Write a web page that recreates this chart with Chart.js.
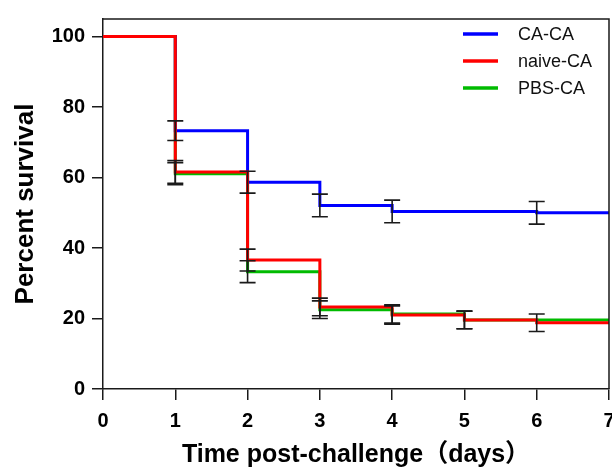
<!DOCTYPE html>
<html>
<head>
<meta charset="utf-8">
<script src="https://cdn.jsdelivr.net/npm/chart.js@4/dist/chart.umd.min.js"></script>
<style>
  html, body { margin: 0; padding: 0; background: #fff; }
  #wrap { width: 612px; height: 470px; position: relative; }
</style>
</head>
<body>
<div id="wrap"><canvas id="survivalChart"></canvas></div>
<script>
const FONT = "Arial, 'Liberation Sans', 'Noto Sans CJK SC', sans-serif";

// values (percent survival per day)
const days = [0, 1, 2, 3, 4, 5, 6, 7];
const seriesNames = ['CA-CA', 'naive-CA', 'PBS-CA'];
const caCa = [100, 73.3, 58.7, 52.1, 50.4, 50.4, 50.0, 50.0];
const caCaErr = [null, 2.8, 3.1, 3.2, 3.2, null, 3.2, null];
const naiveCa = [100, 61.6, 36.6, 23.3, 21.0, 19.6, 18.8, 18.8];
const naiveCaErr = [null, 3.2, 3.1, 2.5, 2.6, 2.5, 2.5, null];
const pbsCa = [100, 61.1, 33.3, 22.5, 21.3, 19.6, 19.6, 19.6];
const pbsCaErr = [null, 3.1, 3.1, 2.5, 2.6, 2.5, null, null];
const yTicks = [0, 20, 40, 60, 80, 100];

const toPoints = (vals) => vals.map((v, i) => ({ x: days[i], y: v }));

// draws the black SEM bars on top of the step lines
const errorBars = {
    id: 'errorBars',
    afterDatasetsDraw(chart) {
        const { ctx, scales: { x, y } } = chart;
        ctx.save();
        ctx.strokeStyle = '#1a1a1a';
        ctx.lineWidth = 1.6;
        chart.data.datasets.forEach((ds) => {
            ds.errors.forEach((e, i) => {
                if (e == null) return;
                const px = x.getPixelForValue(days[i]);
                const v = ds.data[i].y;
                const top = y.getPixelForValue(v + e);
                const bot = y.getPixelForValue(v - e);
                ctx.beginPath();
                ctx.moveTo(px, top); ctx.lineTo(px, bot);
                ctx.moveTo(px - 8, top); ctx.lineTo(px + 8, top);
                ctx.moveTo(px - 8, bot); ctx.lineTo(px + 8, bot);
                ctx.stroke();
            });
        });
        ctx.restore();
    }
};

// box frame + legend in the top right corner
const frameAndLegend = {
    id: 'frameAndLegend',
    afterDraw(chart) {
        const { ctx, chartArea: a } = chart;
        ctx.save();
        ctx.strokeStyle = '#1a1a1a';
        ctx.lineWidth = 1.5;
        ctx.beginPath();
        ctx.moveTo(a.left, a.top); ctx.lineTo(a.right, a.top); ctx.lineTo(a.right, a.bottom);
        ctx.stroke();

        ctx.font = '18px ' + FONT;
        ctx.textBaseline = 'middle';
        ctx.fillStyle = '#111';
        chart.data.datasets.forEach((ds, i) => {
            const ly = 34 + i * 27;
            ctx.strokeStyle = ds.borderColor;
            ctx.lineWidth = 3.5;
            ctx.beginPath();
            ctx.moveTo(463, ly); ctx.lineTo(498, ly);
            ctx.stroke();
            ctx.fillText(ds.label, 518, ly + 1);
        });
        ctx.restore();
    }
};

new Chart(document.getElementById('survivalChart'), {
    type: 'line',
    data: {
        datasets: [
            { label: seriesNames[0], data: toPoints(caCa), errors: caCaErr, borderColor: '#0000ff', order: 1 },
            { label: seriesNames[1], data: toPoints(naiveCa), errors: naiveCaErr, borderColor: '#ff0000', order: 0 },
            { label: seriesNames[2], data: toPoints(pbsCa), errors: pbsCaErr, borderColor: '#00bb00', order: 2 }
        ].map(d => Object.assign(d, { stepped: true, borderWidth: 3, pointRadius: 0, fill: false }))
    },
    options: {
        responsive: true,
        maintainAspectRatio: false,
        animation: false,
        layout: { padding: { top: 10, right: 3, left: 0, bottom: 0 } },
        plugins: {
            legend: { display: false },
            tooltip: { enabled: false }
        },
        scales: {
            x: {
                type: 'linear',
                min: 0,
                max: 7,
                border: { color: '#1a1a1a', width: 1.5 },
                grid: { drawOnChartArea: false, color: '#1a1a1a', lineWidth: 1.5, tickLength: 11 },
                ticks: {
                    stepSize: 1,
                    color: '#000',
                    padding: 9,
                    font: { family: FONT, size: 20, weight: 'bold' }
                },
                title: {
                    display: true,
                    text: 'Time post-challenge（days）',
                    color: '#000',
                    padding: { top: 0, bottom: 0 },
                    font: { family: FONT, size: 25, weight: 'bold' }
                },
                afterFit(scale) {
                    scale.height = 81;
                    scale.paddingLeft = 0;
                    scale.paddingRight = 0;
                }
            },
            y: {
                min: 0,
                max: 105,
                border: { color: '#1a1a1a', width: 1.5 },
                grid: { drawOnChartArea: false, color: '#1a1a1a', lineWidth: 1.5, tickLength: 11 },
                afterBuildTicks(scale) {
                    scale.ticks = yTicks.map(v => ({ value: v }));
                },
                ticks: {
                    color: '#000',
                    padding: 7,
                    font: { family: FONT, size: 20, weight: 'bold' }
                },
                title: {
                    display: true,
                    text: 'Percent survival',
                    color: '#000',
                    padding: { top: 10, bottom: 0 },
                    font: { family: FONT, size: 26, weight: 'bold' }
                },
                afterFit(scale) {
                    scale.width = 103;
                }
            }
        }
    },
    plugins: [errorBars, frameAndLegend]
});
</script>
</body>
</html>
